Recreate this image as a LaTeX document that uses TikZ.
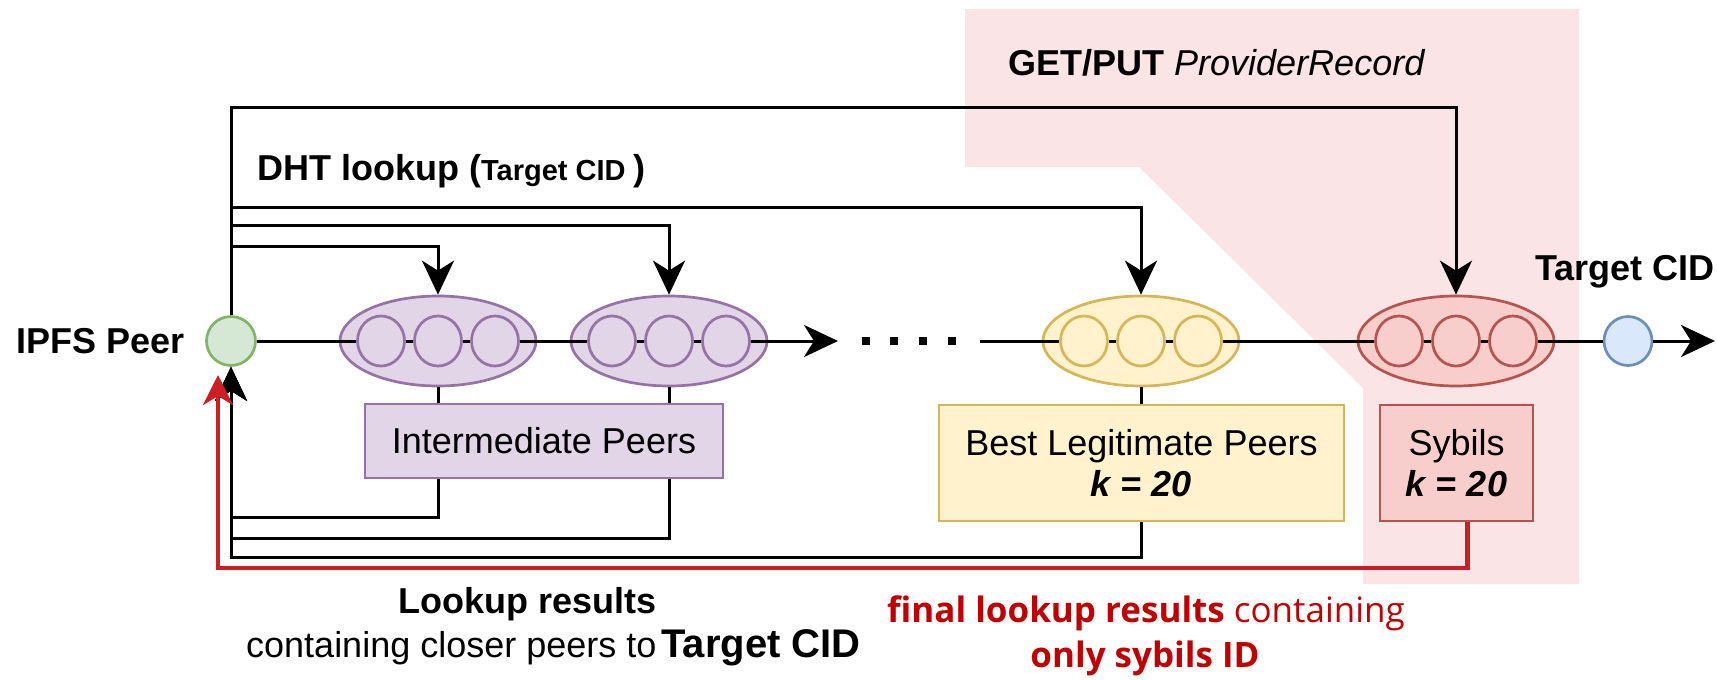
\documentclass[tikz,border=0pt]{standalone}
\usepackage{fontspec}
\setmainfont{Liberation Sans}
\newfontfamily\redfont{Open Sans}
\usetikzlibrary{arrows.meta,shapes.geometric}
\definecolor{pinkbg}{HTML}{FAE4E6}
\definecolor{purfill}{HTML}{E1D5E7}
\definecolor{purdraw}{HTML}{9673A6}
\definecolor{yelfill}{HTML}{FFF2CC}
\definecolor{yeldraw}{HTML}{D6B656}
\definecolor{redfill}{HTML}{F8CECC}
\definecolor{reddraw}{HTML}{B85450}
\definecolor{grnfill}{HTML}{D5E8D4}
\definecolor{grndraw}{HTML}{82B366}
\definecolor{blufill}{HTML}{DAE8FC}
\definecolor{bludraw}{HTML}{6C8EBF}
\definecolor{resline}{HTML}{CC1E24}
\definecolor{restext}{HTML}{C00000}
\begin{document}
\begin{tikzpicture}[x=1pt,y=-1pt,
  conn/.style={line width=3pt, black},
  arr/.style={-{Stealth[length=34pt,width=32pt,inset=10pt]}},
  group/.style={ellipse, draw, line width=2.7pt, minimum width=196pt, minimum height=90pt, inner sep=0pt},
  peerc/.style={ellipse, draw, line width=2.7pt, minimum width=47pt, minimum height=50pt, inner sep=0pt},
  pur/.style={draw=purdraw, fill=purfill},
  yel/.style={draw=yeldraw, fill=yelfill},
  redc/.style={draw=reddraw, fill=redfill},
  boxn/.style={draw, line width=2.7pt, inner sep=0pt, align=center, font=\fontsize{36}{43}\selectfont},
  lbl/.style={inner sep=0pt, font=\fontsize{36}{42}\selectfont\bfseries},
  redtxt/.style={inner sep=0pt, text=restext, font=\redfont\fontsize{35}{46}\selectfont}
]
\useasboundingbox (0,0) rectangle (1717,680);
% pink region
\fill[pinkbg] (965,9) -- (1579,9) -- (1579,584) -- (1363,584) -- (1363,388) -- (1139,167) -- (965,167) -- cycle;

% peers
\node[circle, draw=grndraw, fill=grnfill, line width=2.7pt, minimum size=49pt, inner sep=0pt] (peer) at (231,341) {};
\node[ellipse, draw=bludraw, fill=blufill, line width=2.7pt, minimum width=48pt, minimum height=49pt, inner sep=0pt] (target) at (1628,341) {};

\foreach \n/\cx/\st in {e1/438/pur, e2/669/pur, ey/1141/yel, er/1456/redc}{
  \node[group,\st] (\n) at (\cx,341) {};
  \node[peerc,\st] (\n a) at (\cx-57,341) {};
  \node[peerc,\st] (\n b) at (\cx,341) {};
  \node[peerc,\st] (\n c) at (\cx+57,341) {};
  \draw[conn] (\n a.east) -- (\n b.west);
  \draw[conn] (\n b.east) -- (\n c.west);
}

% boxes
\node[boxn, pur, minimum width=358pt, minimum height=74pt] (ibox) at (544,441) {Intermediate Peers};
\node[boxn, yel, minimum width=405pt, minimum height=116pt] (ybox) at (1141.5,463) {Best Legitimate Peers\\[-2pt]\textbf{\textit{k = 20}}};
\node[boxn, redc, minimum width=153pt, minimum height=116pt] (sbox) at (1456.5,463) {Sybils\\[-2pt]\textbf{\textit{k = 20}}};

% main chain
\coordinate (chainend) at (838,341);
\coordinate (chainrest) at (980,341);
\coordinate (outend) at (1715,341);
\draw[conn] (peer.east) -- (e1a.west);
\draw[conn] (e1c.east) -- (e2a.west);
\draw[conn,arr] (e2c.east) -- (chainend);
\foreach \x in {866,894,923,952} \fill (\x-4,337) rectangle (\x+4,345);
\draw[conn] (chainrest) -- (eya.west);
\draw[conn] (eyc.east) -- (era.west);
\draw[conn] (erc.east) -- (target.west);
\draw[conn,arr] (target.east) -- (outend);

% lookup requests
\coordinate (lvlA) at (0,107);
\coordinate (lvlB) at (0,207);
\coordinate (lvlC) at (0,225);
\coordinate (lvlD) at (0,246);
\draw[conn,arr] (peer.north) -- (peer.north |- lvlA) -| (er.north);
\draw[conn,arr] (peer.north) -- (peer.north |- lvlB) -| (ey.north);
\draw[conn,arr] (peer.north) -- (peer.north |- lvlC) -| (e2.north);
\draw[conn,arr] (peer.north) -- (peer.north |- lvlD) -| (e1.north);

% ellipse to box
\draw[conn] (e1.south) -- (e1.south |- ibox.north);
\draw[conn] (e2.south) -- (e2.south |- ibox.north);
\draw[conn] (ey.south) -- (ey.south |- ybox.north);

% returns
\coordinate (rA) at (0,517);
\coordinate (rB) at (0,538);
\coordinate (rC) at (0,557);
\draw[conn,arr] (ibox.south -| e1.south) |- (peer.south |- rA) -- (peer.south);
\draw[conn,arr] (ibox.south -| e2.south) |- (peer.south |- rB) -- (peer.south);
\draw[conn,arr] (ybox.south) |- (peer.south |- rC) -- (peer.south);

% red return
\coordinate (redlvl) at (218,568);
\coordinate (redend) at (218,375);
\draw[line width=4.5pt, resline, -{Stealth[length=30pt,width=30pt,inset=9pt]}] ([xshift=11pt]sbox.south) |- (redlvl) -- (redend);

% labels
\node[lbl, anchor=base west] (ipfs) at (16,353) {IPFS Peer};
\node[lbl, anchor=base west] (dht) at (257,180) {DHT lookup ({\fontsize{29}{34}\selectfont Target CID })};
\node[lbl, anchor=base west] (getput) at (1008,75) {GET/PUT {\mdseries\itshape ProviderRecord}};
\node[lbl, anchor=base east] (tcid) at (1715,280) {Target CID};
\node[lbl, anchor=base] (lres) at (528,613) {Lookup results};
\node[inner sep=0pt, anchor=base west, font=\fontsize{36}{42}\selectfont] (closer) at (246,657) {containing closer peers to\hspace{5pt}{\bfseries\fontsize{40}{46}\selectfont Target CID}};
\node[redtxt, anchor=base] (fres) at (1146,622) {\textbf{final lookup results} containing};
\node[redtxt, anchor=base] (only) at (1145,667) {\textbf{only sybils ID}};
\end{tikzpicture}
\end{document}
